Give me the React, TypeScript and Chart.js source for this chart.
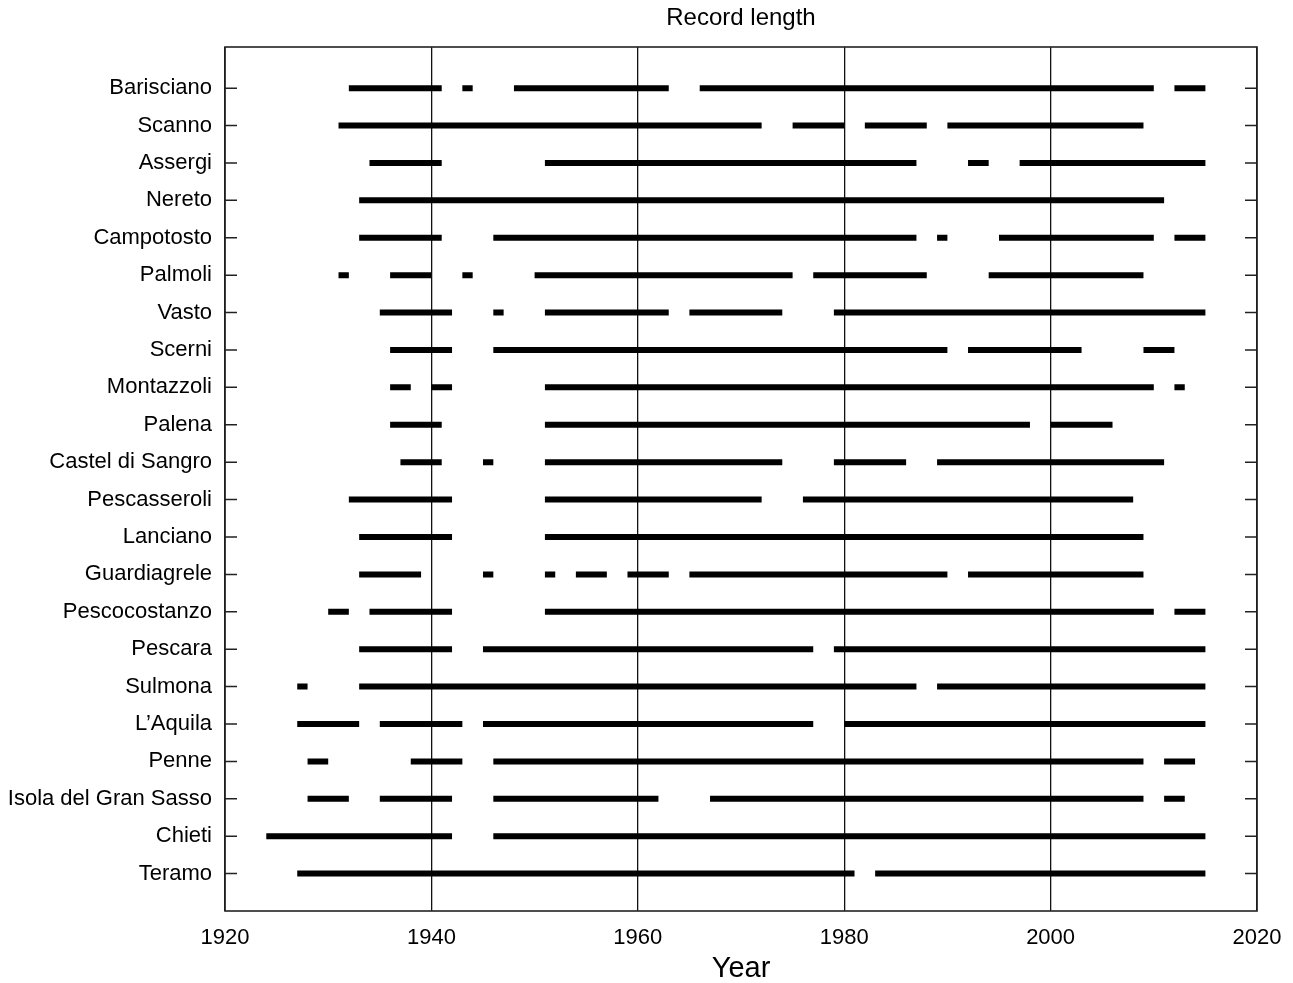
import { useEffect, useRef } from "react";
import { Chart, registerables } from "chart.js";

Chart.register(...registerables);

// Stations, top to bottom
const stations = [
  "Barisciano",
  "Scanno",
  "Assergi",
  "Nereto",
  "Campotosto",
  "Palmoli",
  "Vasto",
  "Scerni",
  "Montazzoli",
  "Palena",
  "Castel di Sangro",
  "Pescasseroli",
  "Lanciano",
  "Guardiagrele",
  "Pescocostanzo",
  "Pescara",
  "Sulmona",
  "L\u2019Aquila",
  "Penne",
  "Isola del Gran Sasso",
  "Chieti",
  "Teramo",
];

// Record periods (start year, end year) for each station
const barisciano = [[1932, 1941], [1943, 1944], [1948, 1963], [1966, 2010], [2012, 2015]];
const scanno = [[1931, 1972], [1975, 1980], [1982, 1988], [1990, 2009]];
const assergi = [[1934, 1941], [1951, 1987], [1992, 1994], [1997, 2015]];
const nereto = [[1933, 2011]];
const campotosto = [[1933, 1941], [1946, 1987], [1989, 1990], [1995, 2010], [2012, 2015]];
const palmoli = [[1931, 1932], [1936, 1940], [1943, 1944], [1950, 1975], [1977, 1988], [1994, 2009]];
const vasto = [[1935, 1942], [1946, 1947], [1951, 1963], [1965, 1974], [1979, 2015]];
const scerni = [[1936, 1942], [1946, 1990], [1992, 2003], [2009, 2012]];
const montazzoli = [[1936, 1938], [1940, 1942], [1951, 2010], [2012, 2013]];
const palena = [[1936, 1941], [1951, 1998], [2000, 2006]];
const casteldisangro = [[1937, 1941], [1945, 1946], [1951, 1974], [1979, 1986], [1989, 2011]];
const pescasseroli = [[1932, 1942], [1951, 1972], [1976, 2008]];
const lanciano = [[1933, 1942], [1951, 2009]];
const guardiagrele = [[1933, 1939], [1945, 1946], [1951, 1952], [1954, 1957], [1959, 1963], [1965, 1990], [1992, 2009]];
const pescocostanzo = [[1930, 1932], [1934, 1942], [1951, 2010], [2012, 2015]];
const pescara = [[1933, 1942], [1945, 1977], [1979, 2015]];
const sulmona = [[1927, 1928], [1933, 1987], [1989, 2015]];
const laquila = [[1927, 1933], [1935, 1943], [1945, 1977], [1980, 2015]];
const penne = [[1928, 1930], [1938, 1943], [1946, 2009], [2011, 2014]];
const isola = [[1928, 1932], [1935, 1942], [1946, 1962], [1967, 2009], [2011, 2013]];
const chieti = [[1924, 1942], [1946, 2015]];
const teramo = [[1927, 1981], [1983, 2015]];

const stationSegments = [
  barisciano, scanno, assergi, nereto, campotosto, palmoli, vasto, scerni,
  montazzoli, palena, casteldisangro, pescasseroli, lanciano, guardiagrele,
  pescocostanzo, pescara, sulmona, laquila, penne, isola, chieti, teramo,
];

const xTicks = [1920, 1940, 1960, 1980, 2000, 2020];

const chartTitle = "Record length";

const FONT = "'Liberation Sans', Arial, Helvetica, sans-serif";

export default function App() {
  const canvasRef = useRef<HTMLCanvasElement | null>(null);

  useEffect(() => {
    document.body.style.margin = "0";
    const canvas = canvasRef.current;
    if (!canvas) return;
    const n = stations.length;
    const rowOf = (i: number) => n - i;

    const datasets = stationSegments.map((segs, i) => {
      const data: { x: number; y: number | null }[] = [];
      segs.forEach(([a, b]) => {
        data.push({ x: a, y: rowOf(i) });
        data.push({ x: b, y: rowOf(i) });
        data.push({ x: b, y: null });
      });
      return {
        label: stations[i],
        data,
        borderColor: "#000",
        backgroundColor: "#000",
        borderWidth: 6,
        borderCapStyle: "butt" as const,
        pointRadius: 0,
        pointHoverRadius: 0,
        spanGaps: false,
        fill: false,
        tension: 0,
      };
    });

    const framePlugin = {
      id: "frameAndTicks",
      afterDraw(chart: any) {
        const { ctx, chartArea } = chart;
        const y = chart.scales.y;
        ctx.save();
        ctx.strokeStyle = "#222";
        ctx.lineWidth = 1.6;
        ctx.strokeRect(chartArea.left, chartArea.top, chartArea.right - chartArea.left, chartArea.bottom - chartArea.top);
        ctx.lineWidth = 1.5;
        ctx.beginPath();
        y.ticks.forEach((t: any) => {
          const py = y.getPixelForValue(t.value);
          ctx.moveTo(chartArea.left, py);
          ctx.lineTo(chartArea.left + 12, py);
          ctx.moveTo(chartArea.right - 12, py);
          ctx.lineTo(chartArea.right, py);
        });
        ctx.stroke();
        // title centred over the plot area
        ctx.fillStyle = "#000";
        ctx.font = `24px ${FONT}`;
        ctx.textAlign = "center";
        ctx.textBaseline = "middle";
        ctx.fillText(chartTitle, (chartArea.left + chartArea.right) / 2, 18);
        ctx.restore();
      },
    };

    const chart = new Chart(canvas, {
      type: "line",
      data: { datasets: datasets as any },
      options: {
        animation: false,
        responsive: true,
        maintainAspectRatio: false,
        layout: { padding: { left: 0, right: 36, top: 47, bottom: 0 } },
        plugins: {
          legend: { display: false },
          tooltip: { enabled: false },
          title: { display: false },
        },
        scales: {
          x: {
            type: "linear",
            min: 1920,
            max: 2020,
            afterBuildTicks: (scale: any) => {
              scale.ticks = xTicks.map((v) => ({ value: v }));
            },
            afterFit: (scale: any) => {
              scale.height = 72;
            },
            grid: { display: true, color: "#111", lineWidth: 1.3, drawTicks: false },
            border: { display: false },
            ticks: {
              color: "#000",
              padding: 0,
              maxRotation: 0,
              font: { family: FONT, size: 22, lineHeight: 2.45 },
              callback: (v: any) => String(v),
            },
            title: {
              display: true,
              text: "Year",
              color: "#000",
              font: { family: FONT, size: 29, lineHeight: 1 },
              padding: { top: 0, bottom: 0 },
            },
          },
          y: {
            type: "linear",
            min: 0,
            max: 23.1,
            afterBuildTicks: (scale: any) => {
              scale.ticks = stations.map((_, i) => ({ value: i + 1 }));
            },
            afterFit: (scale: any) => {
              scale.width = 225;
            },
            grid: { display: false, drawTicks: false },
            border: { display: false },
            ticks: {
              color: "#000",
              padding: 13,
              autoSkip: false,
              font: { family: FONT, size: 22 },
              callback: (v: any) => {
                const idx = n - Number(v);
                return idx >= 0 && idx < n ? stations[idx] : "";
              },
            },
          },
        },
      },
      plugins: [framePlugin],
    });

    return () => chart.destroy();
  }, []);

  return (
    <div style={{ position: "fixed", left: 0, top: 0, width: 1293, height: 983, background: "#fff" }}>
      <canvas ref={canvasRef} />
    </div>
  );
}
